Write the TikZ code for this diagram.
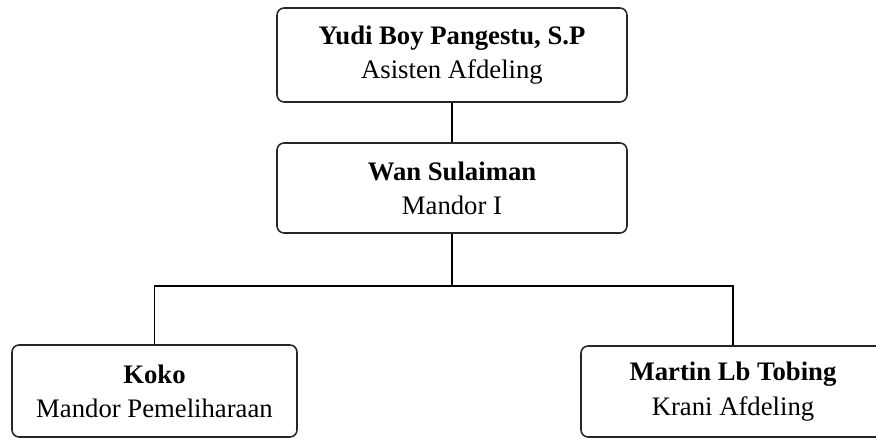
\documentclass[tikz,border=0pt]{standalone}
\usepackage{fontspec}
\setmainfont{Liberation Serif}
\usetikzlibrary{positioning,calc}

\begin{document}
\begin{tikzpicture}[x=0.02cm, y=-0.02cm, semithick, align=center]

    \tikzstyle{orgbox}=[draw=black!85,line width=0.9pt,rectangle,rounded corners=4pt,fill=white,text=black,font=\fontsize{15.2}{19.5}\selectfont]

    \useasboundingbox (0,0) rectangle (876,438);

    \node[orgbox, minimum width=7cm, minimum height=1.88cm]    (asisten) at (452,55)    {\textbf{Yudi Boy Pangestu, S.P}\\Asisten Afdeling};
    \node[orgbox, minimum width=7cm, minimum height=1.8cm]     (mandor)  at (452,188)   {\textbf{Wan Sulaiman}\\Mandor I};
    \node[orgbox, minimum width=5.7cm, minimum height=1.84cm]  (koko)    at (154.5,391) {\textbf{Koko}\\Mandor Pemeliharaan};
    \node[orgbox, minimum width=6.08cm, minimum height=1.82cm] (krani)   at (733,391.5) {\textbf{Martin Lb Tobing}\\Krani Afdeling};

    \coordinate (split) at (452,286);

    \draw[line width=0.9pt] (asisten) -- (mandor);
    \draw[line width=0.9pt] (mandor) -- (split);
    \draw[line width=0.9pt] (split) -| (koko.north);
    \draw[line width=0.9pt] (split) -| (krani.north);
\end{tikzpicture}
\end{document}
